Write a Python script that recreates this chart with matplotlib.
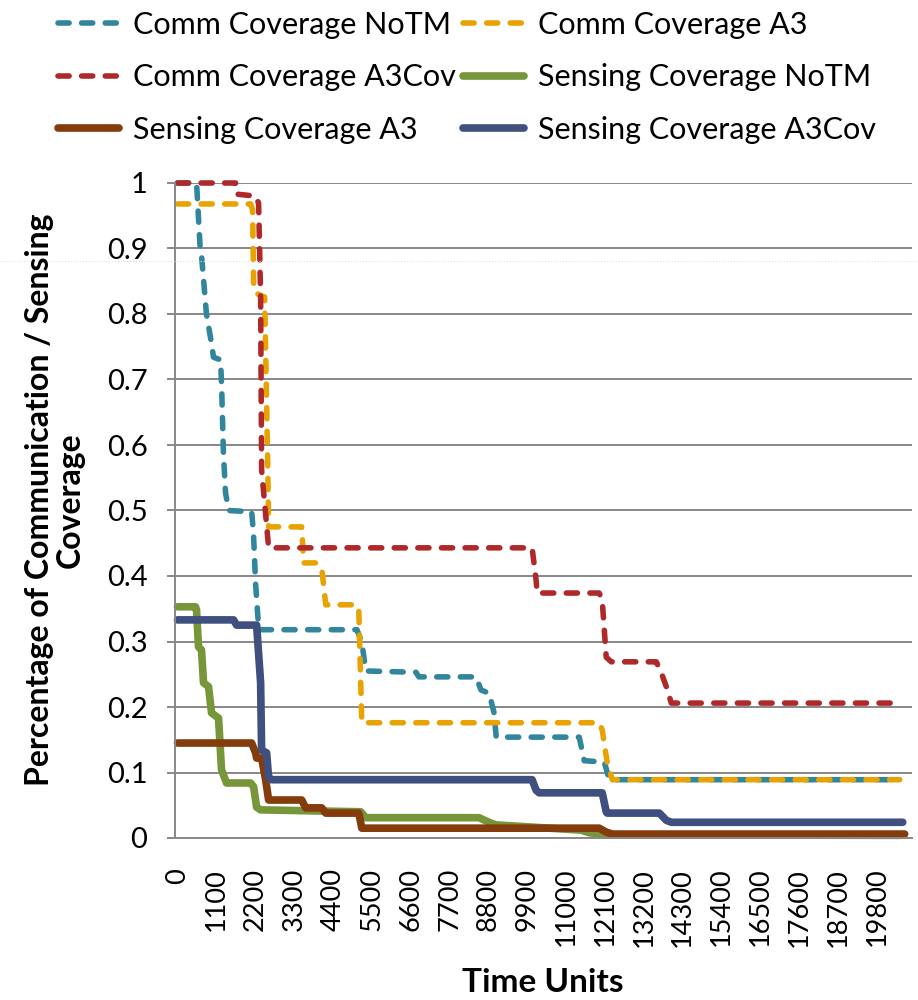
import matplotlib.pyplot as plt
from matplotlib.lines import Line2D

plt.rcParams['font.family'] = ['Lato', 'DejaVu Sans']

## Comm coverage, no trust management
t_comm_notm = [0, 540, 650, 680, 820, 960, 1020, 1220, 1250, 1300, 1360, 1450, 2100, 2150, 2210, 2300,
               5080, 5220, 5330, 6750, 6830, 8450, 8590, 8820, 8960, 9020, 11370, 11510, 12080, 12220, 20440]
v_comm_notm = [1.0, 1.0, 0.893, 0.89, 0.80, 0.756, 0.734, 0.73, 0.689, 0.588, 0.527, 0.5, 0.498, 0.466, 0.389, 0.318,
               0.318, 0.298, 0.255, 0.253, 0.246, 0.246, 0.226, 0.221, 0.191, 0.154, 0.154, 0.118, 0.116, 0.089, 0.089]

## Comm coverage, A3
t_comm_a3 = [0, 2070, 2126, 2155, 2211, 2467, 2552, 2580, 3515, 3572, 3912, 4082, 4196, 5075, 5131, 5216,
             11935, 12020, 12162, 12304, 20440]
v_comm_a3 = [0.968, 0.968, 0.959, 0.847, 0.832, 0.826, 0.577, 0.475, 0.475, 0.42, 0.42, 0.412, 0.356, 0.356, 0.348, 0.176,
             0.176, 0.165, 0.115, 0.089, 0.089]

## Comm coverage, A3Cov
t_comm_a3cov = [0, 1644, 1673, 2211, 2296, 2353, 2381, 2580, 10036, 10149, 10178, 11935, 12020, 12134, 12276,
                13551, 13693, 13835, 13976, 20440]
v_comm_a3cov = [1.0, 1.0, 0.983, 0.98, 0.969, 0.826, 0.562, 0.443, 0.443, 0.394, 0.374, 0.374, 0.363, 0.276, 0.269,
                0.269, 0.252, 0.231, 0.206, 0.206]

## Sensing coverage, no trust management
t_sens_notm = [0, 510, 539, 595, 680, 737, 879, 964, 1162, 1247, 1389, 2070, 2155, 2240, 2353, 5188, 5330,
               8533, 8817, 9015, 11425, 11652, 12134, 20440]
v_sens_notm = [0.353, 0.353, 0.348, 0.292, 0.287, 0.237, 0.231, 0.191, 0.183, 0.104, 0.084, 0.084, 0.078, 0.047,
               0.043, 0.040, 0.031, 0.031, 0.024, 0.020, 0.012, 0.008, 0.005, 0.004]

## Sensing coverage, A3
t_sens_a3 = [0, 2098, 2211, 2240, 2381, 2495, 2580, 3515, 3629, 4082, 4196, 5131, 5216, 11935, 12134, 12304, 20580]
v_sens_a3 = [0.145, 0.145, 0.130, 0.122, 0.122, 0.089, 0.058, 0.058, 0.046, 0.046, 0.038, 0.038, 0.015, 0.015,
             0.009, 0.006, 0.006]

## Sensing coverage, A3Cov
t_sens_a3cov = [0, 1588, 1673, 2240, 2353, 2381, 2523, 2580, 2665, 10036, 10149, 10235, 12020, 12134, 12162,
                13636, 13835, 13976, 20525]
v_sens_a3cov = [0.333, 0.333, 0.325, 0.325, 0.237, 0.134, 0.130, 0.092, 0.089, 0.089, 0.073, 0.069, 0.069, 0.040,
                0.038, 0.038, 0.027, 0.024, 0.024]

xticks = list(range(0, 19801, 1100))
yticks = [i / 10 for i in range(11)]

fig = plt.figure(figsize=(9.18, 10), dpi=100)
ax = fig.add_axes([0.1906, 0.162, 0.8028, 0.655])

dash = (2.0, 2.25)
lines = []
l, = ax.plot(t_comm_notm, v_comm_notm, color='#31859c', lw=4, dashes=dash, dash_capstyle='round',
             label='Comm Coverage NoTM')
lines.append(l)
l, = ax.plot(t_comm_a3, v_comm_a3, color='#e8a202', lw=4, dashes=dash, dash_capstyle='round',
             label='Comm Coverage A3')
lines.append(l)
l, = ax.plot(t_comm_a3cov, v_comm_a3cov, color='#af292b', lw=4, dashes=dash, dash_capstyle='round',
             label='Comm Coverage A3Cov')
lines.append(l)
l, = ax.plot(t_sens_notm, v_sens_notm, color='#77963a', lw=5.5, solid_capstyle='round',
             label='Sensing Coverage NoTM')
lines.append(l)
l, = ax.plot(t_sens_a3, v_sens_a3, color='#843c0c', lw=5.5, solid_capstyle='round',
             label='Sensing Coverage A3')
lines.append(l)
l, = ax.plot(t_sens_a3cov, v_sens_a3cov, color='#3f4f7f', lw=5.5, solid_capstyle='round',
             label='Sensing Coverage A3Cov')
lines.append(l)
for l in lines:
    l.set_clip_on(False)

ax.set_xlim(-71, 20786)
ax.set_ylim(0, 1)
ax.set_yticks(yticks)
ax.set_yticklabels(['{:g}'.format(y) for y in yticks])
ax.set_xticks(xticks)
ax.set_xticklabels([str(x) for x in xticks], rotation=90, va='top')
ax.tick_params(axis='y', length=5.8, width=1.4, color='#888888', pad=14, labelsize=21)
ax.tick_params(axis='x', length=0, pad=21.5, labelsize=19.5)
ax.grid(axis='y', color='#888888', lw=1.4)
ax.set_axisbelow(True)
for s in ['top', 'right']:
    ax.spines[s].set_visible(False)
for s in ['left', 'bottom']:
    ax.spines[s].set_color('#888888')
    ax.spines[s].set_linewidth(1.4)

fig.text(55 / 918, 0.5, 'Percentage of Communication / Sensing\nCoverage', rotation=90,
         ha='center', va='center', multialignment='center', fontsize=23, fontweight='bold',
         linespacing=1.05)
fig.text(543 / 918, 0.017, 'Time Units', ha='center', va='center', fontsize=24, fontweight='bold')

# legend is row-major: reorder for matplotlib's column filling
order = [0, 2, 4, 1, 3, 5]
fig.legend([lines[i] for i in order], [lines[i].get_label() for i in order], ncol=2,
           loc='upper left', bbox_to_anchor=(0.063, 0.989), frameon=False, fontsize=22,
           handlelength=2.0, handletextpad=0.45, columnspacing=0.25, labelspacing=0.8,
           borderpad=0, borderaxespad=0)

# faint scan line across the figure
fig.add_artist(Line2D([0, 1], [1 - 261 / 1000] * 2, transform=fig.transFigure,
                      color='#e6e0d0', lw=0.8, ls=':'))

plt.savefig('out.png')
